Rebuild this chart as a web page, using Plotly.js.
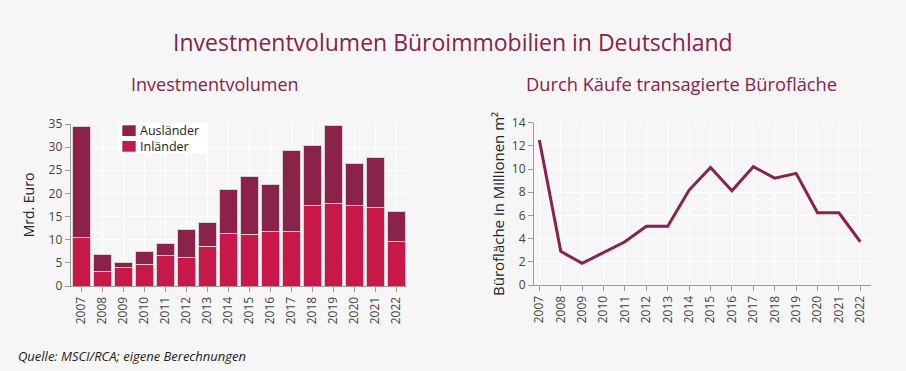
<!DOCTYPE html>
<html>
<head>
<meta charset="utf-8">
<script src="https://cdn.plot.ly/plotly-3.0.1.min.js"></script>
<style>html,body{margin:0;padding:0;background:#f6f6f6;}#chart{width:906px;height:371px;}</style>
</head>
<body>
<div id="chart"></div>
<script>
var years = ["2007","2008","2009","2010","2011","2012","2013","2014","2015","2016","2017","2018","2019","2020","2021","2022"];
var inlaender = [10.4, 3.2, 3.95, 4.55, 6.6, 6.25, 8.55, 11.4, 11.2, 11.7, 11.7, 17.5, 17.85, 17.5, 17.05, 9.7];
var auslaender = [24.0, 3.5, 1.05, 3.0, 2.5, 5.85, 5.25, 9.5, 12.5, 10.2, 17.6, 12.8, 16.75, 8.9, 10.8, 6.3];
var flaeche = [12.5, 2.9, 1.87, 2.8, 3.73, 5.06, 5.06, 8.19, 10.14, 8.13, 10.2, 9.22, 9.63, 6.23, 6.23, 3.73];
var seriesNames = ["Inländer", "Ausländer"];

var dark = '#8a2249';
var red = '#c8184a';
var font = '"Open Sans", Lato, sans-serif';

var W = 906, H = 371;
function px(x){return x/W;}
function py(y){return 1 - y/H;}

var traces = [
  {type:'bar', name:seriesNames[0], x:years, y:inlaender, xaxis:'x', yaxis:'y',
   marker:{color:red, line:{color:'#d8d0d3', width:1}}, hoverinfo:'y'},
  {type:'bar', name:seriesNames[1], x:years, y:auslaender, xaxis:'x', yaxis:'y',
   marker:{color:dark, line:{color:'#d8d0d3', width:1}}, hoverinfo:'y'},
  {type:'scatter', mode:'lines', name:'Bürofläche', x:years, y:flaeche, xaxis:'x2', yaxis:'y2',
   line:{color:dark, width:3}}
];

var axisCommon = {
  showgrid:true, gridcolor:'#ffffff', gridwidth:1,
  showline:true, linecolor:'#9a9a9a', linewidth:1,
  ticks:'outside', ticklen:5, tickcolor:'#9a9a9a',
  tickfont:{family:font, size:12, color:'#444'},
  zeroline:false, fixedrange:true
};

// Custom compact legend (box + swatches + labels)
var legL = 118.3, legR = 207.7, legT = 122.7, legB = 153.3;
var shapes = [
  {type:'rect', xref:'paper', yref:'paper', x0:px(legL), x1:px(legR), y0:py(legB), y1:py(legT),
   fillcolor:'#ffffff', line:{width:0}, layer:'above'},
  {type:'rect', xref:'paper', yref:'paper', x0:px(122.3), x1:px(135.7), y0:py(136), y1:py(125.3),
   fillcolor:dark, line:{width:0}, layer:'above'},
  {type:'rect', xref:'paper', yref:'paper', x0:px(122.3), x1:px(135.7), y0:py(151.7), y1:py(141),
   fillcolor:red, line:{width:0}, layer:'above'}
];

var layout = {
  width:W, height:H,
  paper_bgcolor:'#f6f6f6', plot_bgcolor:'#f6f6f6',
  margin:{l:0, r:0, t:0, b:0},
  barmode:'stack', bargap:0.14,
  showlegend:false,
  xaxis: Object.assign({}, axisCommon, {domain:[px(70.7), px(406.7)], type:'category',
          tickangle:-90, anchor:'y', range:[-0.5, 15.5]}),
  yaxis: Object.assign({}, axisCommon, {domain:[py(286), py(124)], range:[0,35], dtick:5, anchor:'x',
          title:{text:'Mrd. Euro', font:{family:font, size:14, color:'#222'}, standoff:10}}),
  xaxis2: Object.assign({}, axisCommon, {domain:[px(534), px(871)], type:'category',
          tickangle:-90, anchor:'y2', range:[-0.25, 15.5]}),
  yaxis2: Object.assign({}, axisCommon, {domain:[py(285), py(122.7)], range:[0,14], dtick:2, anchor:'x2',
          title:{text:'Bürofläche in Millionen m²', font:{family:font, size:15, color:'#222'}, standoff:3}}),
  shapes: shapes,
  annotations:[
    {text:'Investmentvolumen Büroimmobilien in Deutschland', x:px(453), y:py(42), xref:'paper', yref:'paper',
     showarrow:false, xanchor:'center', yanchor:'middle', font:{family:font, size:23, color:dark}},
    {text:'Investmentvolumen', x:px(215), y:py(84), xref:'paper', yref:'paper',
     showarrow:false, xanchor:'center', yanchor:'middle', font:{family:font, size:18, color:dark}},
    {text:'Durch Käufe transagierte Bürofläche', x:px(681), y:py(84), xref:'paper', yref:'paper',
     showarrow:false, xanchor:'center', yanchor:'middle', font:{family:font, size:18.3, color:dark}},
    {text:'<i>Quelle: MSCI/RCA; eigene Berechnungen</i>', x:px(16), y:py(356), xref:'paper', yref:'paper',
     showarrow:false, xanchor:'left', yanchor:'middle', font:{family:font, size:13, color:'#222'}},
    {text:seriesNames[1] + '<br>' + seriesNames[0], x:px(138), y:py(138.5), xref:'paper', yref:'paper',
     showarrow:false, xanchor:'left', yanchor:'middle', align:'left',
     font:{family:font, size:12.5, color:'#222'}}
  ]
};

Plotly.newPlot('chart', traces, layout, {displayModeBar:false, staticPlot:true});
</script>
</body>
</html>
